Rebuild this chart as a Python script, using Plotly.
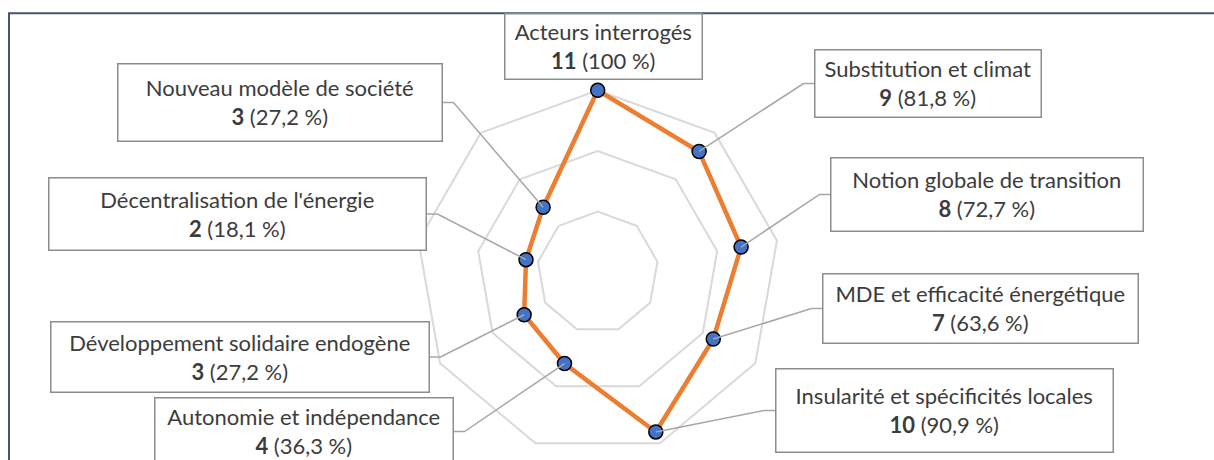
import math
import plotly.graph_objects as go

# ---------------- data ----------------
categories = [
    "Acteurs interrogés",
    "Substitution et climat",
    "Notion globale de transition",
    "MDE et efficacité énergétique",
    "Insularité et spécificités locales",
    "Autonomie et indépendance",
    "Développement solidaire endogène",
    "Décentralisation de l'énergie",
    "Nouveau modèle de société",
]
values = [11, 9, 8, 7, 10, 4, 3, 2, 3]
pct_labels = ["100", "81,8", "72,7", "63,6", "90,9", "36,3", "27,2", "18,1", "27,2"]

# radial axis (Excel axis min -4, max 11, major unit 5 -> emulated with a hole)
AXIS_MIN, R_MIN, R_MAX = -4, 0, 11.1
GRID_TOP = 11
HOLE = (R_MIN - AXIS_MIN) / (R_MAX - AXIS_MIN)
grid_vals = [1, 6, 11]

# ---------------- layout geometry ----------------
W, H = 1214, 460
CX, CY, R11 = 597.7, 272.3, 182.0  # polar centre / radius of the outer grid (px)
RAD = R11 * (R_MAX - AXIS_MIN) / (GRID_TOP - AXIS_MIN)
dom_x = [(CX - RAD) / W, (CX + RAD) / W]
dom_y = [(H - CY - RAD) / H, (H - CY + RAD) / H]

# label boxes: (left, top, right, bottom, side of leader)
boxes = [
    (505, 14, 702, 79, None),
    (815, 50, 1041, 117, "left"),
    (831, 158, 1143, 231, "left"),
    (823, 274, 1138, 343, "left"),
    (776, 369, 1113, 452, "left"),
    (155, 398, 453, 465, "right"),
    (51, 322, 429, 392, "right"),
    (49, 178, 426, 250, "right"),
    (118, 64, 442, 141, "right"),
]
ELBOW = 11.5

TEXT_COLOR = "#3c3c3c"
BOX_COLOR = "#8c8c8c"
LEADER_COLOR = "#a6a6a6"
GRID_COLOR = "#d9d9d9"
FONT = "Lato"
FSIZE = 22


def data_to_px(v, i, n):
    ang = math.radians(360.0 * i / n)
    r = RAD * (HOLE + (1 - HOLE) * (v - R_MIN) / (R_MAX - R_MIN))
    return CX + r * math.sin(ang), CY - r * math.cos(ang)


def px(xp, yp):
    return xp / W, 1 - yp / H


fig = go.Figure()
theta_closed = categories + [categories[0]]
r_closed = values + [values[0]]
fig.add_trace(go.Scatterpolar(
    r=r_closed, theta=theta_closed, mode="lines",
    line=dict(color="#ed7d31", width=4.5),
    hoverinfo="skip", showlegend=False,
))
fig.add_trace(go.Scatterpolar(
    r=values, theta=categories, mode="markers",
    marker=dict(size=14, color="#4472c4", line=dict(color="#000000", width=1.5)),
    cliponaxis=False,
    hoverinfo="skip", showlegend=False,
))

shapes = []
annotations = []
n = len(categories)
BW = 1.5
for i, (cat, val, pct) in enumerate(zip(categories, values, pct_labels)):
    l, t, rgt, b, side = boxes[i]
    cxp, cyp = (l + rgt) / 2, (t + b) / 2
    xa, ya = px(cxp, cyp)
    annotations.append(dict(
        x=xa, y=ya, xref="paper", yref="paper", xanchor="center", yanchor="middle",
        text=f"{cat}<br><b>{val}</b> ({pct} %)",
        showarrow=False, align="center", valign="middle",
        width=rgt - l - BW, height=b - t - BW,
        bgcolor="white", bordercolor=BOX_COLOR, borderwidth=BW, borderpad=0,
        font=dict(family=FONT, size=FSIZE, color=TEXT_COLOR),
    ))
    if side is not None:
        ex = l if side == "left" else rgt
        ox = ex - ELBOW if side == "left" else ex + ELBOW
        dx, dy = data_to_px(val, i, n)
        p0 = px(ex, cyp)
        p1 = px(ox, cyp)
        p2 = px(dx, dy)
        shapes.append(dict(
            type="path", xref="paper", yref="paper", layer="above",
            path=f"M {p0[0]},{p0[1]} L {p1[0]},{p1[1]} L {p2[0]},{p2[1]}",
            line=dict(color=LEADER_COLOR, width=1.5),
        ))

# chart frame (top and left edges visible in crop)
fr = "#44546a"
f0 = px(9, H + 5)
f1 = px(9, 13.3)
f2 = px(W + 5, 13.3)
shapes.append(dict(type="path", xref="paper", yref="paper", layer="above",
                   path=f"M {f0[0]},{f0[1]} L {f1[0]},{f1[1]} L {f2[0]},{f2[1]}",
                   line=dict(color=fr, width=2)))

fig.update_layout(
    width=W, height=H,
    margin=dict(l=0, r=0, t=0, b=0),
    paper_bgcolor="white", plot_bgcolor="white",
    polar=dict(
        domain=dict(x=dom_x, y=dom_y),
        bgcolor="white",
        hole=HOLE,
        gridshape="linear",
        radialaxis=dict(range=[R_MIN, R_MAX], tickvals=grid_vals, showticklabels=False,
                        ticks="", showline=False, gridcolor=GRID_COLOR, gridwidth=1.5),
        angularaxis=dict(rotation=90, direction="clockwise", showgrid=False,
                         showline=False, showticklabels=False, ticks=""),
    ),
    shapes=shapes,
    annotations=annotations,
)

fig.write_html("out.html", config={"displayModeBar": False},
               post_script="document.body.style.margin='0px';")
